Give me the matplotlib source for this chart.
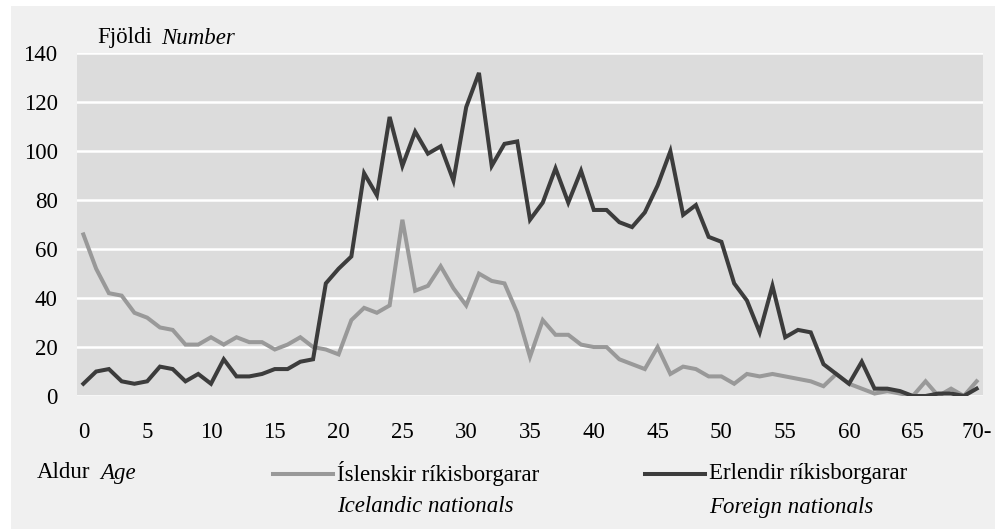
import matplotlib
matplotlib.use("Agg")
import matplotlib.pyplot as plt
from matplotlib.patches import Rectangle
from matplotlib.lines import Line2D

# ---- data ----
ages = list(range(71))
icelandic = [66, 52, 42, 41, 34, 32, 28, 27, 21, 21, 24, 21, 24, 22, 22, 19, 21, 24, 20, 19,
             17, 31, 36, 34, 37, 72, 43, 45, 53, 44, 37, 50, 47, 46, 34, 16, 31, 25, 25, 21,
             20, 20, 15, 13, 11, 20, 9, 12, 11, 8, 8, 5, 9, 8, 9, 8, 7, 6, 4, 9,
             5, 3, 1, 2, 1, 0, 6, 0, 3, 0, 6]
foreign = [5, 10, 11, 6, 5, 6, 12, 11, 6, 9, 5, 15, 8, 8, 9, 11, 11, 14, 15, 46,
           52, 57, 91, 82, 114, 94, 108, 99, 102, 88, 118, 132, 94, 103, 104, 72, 79, 93, 79, 92,
           76, 76, 71, 69, 75, 86, 100, 74, 78, 65, 63, 46, 39, 26, 45, 24, 27, 26, 13, 9,
           5, 14, 3, 3, 2, 0, 0, 1, 1, 0, 3]
xtick_pos = list(range(0, 71, 5))
xtick_labels = ["0", "5", "10", "15", "20", "25", "30", "35", "40", "45", "50", "55", "60", "65", "70-"]
ytick_pos = list(range(0, 141, 20))

FONT = "Liberation Serif"
FS = 16.5
W, H = 1005, 529
LW = 2.9

plt.rcParams["font.family"] = [FONT, "DejaVu Serif"]

fig = plt.figure(figsize=(W / 100, H / 100), dpi=100, facecolor="white")

def fx(px):
    return px / W

def fy(py):
    return 1 - py / H

# panel background
fig.patches.append(Rectangle((fx(11), fy(529)), fx(995) - fx(11), fy(6) - fy(529),
                             transform=fig.transFigure, facecolor="#f0f0f0",
                             edgecolor="none", zorder=-5))

ax = fig.add_axes([fx(77), fy(396), fx(983) - fx(77), fy(53.3) - fy(396)])
ax.set_zorder(2)
ax.set_facecolor("#dcdcdc")
ax.plot(ages, icelandic, color="#999999", lw=LW, solid_joinstyle="miter", zorder=3)
ax.plot(ages, foreign, color="#3c3c3c", lw=LW, solid_joinstyle="miter", zorder=4)

ax.set_xlim(-0.5, 70.5)
ax.set_ylim(0, 140)
ax.set_yticks(ytick_pos)
ax.set_yticklabels([str(v) for v in ytick_pos])
ax.set_xticks(xtick_pos)
ax.set_xticklabels(xtick_labels)
ax.grid(axis="y", color="white", lw=1.8, zorder=1)
ax.set_axisbelow(True)
for s in ax.spines.values():
    s.set_visible(False)
ax.tick_params(axis="both", length=0, labelsize=FS, colors="black")
ax.tick_params(axis="y", pad=14)
ax.tick_params(axis="x", pad=19)

# titles / axis captions
fig.text(fx(97), fy(38), "Fjöldi", fontsize=FS, va="center", ha="left")
fig.text(fx(161), fy(38), "Number", fontsize=FS, va="center", ha="left", style="italic")
fig.text(fx(37), fy(473), "Aldur", fontsize=FS, va="center", ha="left")
fig.text(fx(100), fy(473), "Age", fontsize=FS, va="center", ha="left", style="italic")

# legend
fig.add_artist(Line2D([fx(273), fx(333)], [fy(474), fy(474)], color="#999999", lw=LW,
                      transform=fig.transFigure))
fig.text(fx(337), fy(473), "Íslenskir ríkisborgarar", fontsize=FS, va="center", ha="left")
fig.text(fx(337), fy(507), "Icelandic nationals", fontsize=FS, va="center", ha="left", style="italic")
fig.add_artist(Line2D([fx(645), fx(705)], [fy(474), fy(474)], color="#3c3c3c", lw=LW,
                      transform=fig.transFigure))
fig.text(fx(709), fy(473), "Erlendir ríkisborgarar", fontsize=FS, va="center", ha="left")
fig.text(fx(709), fy(507), "Foreign nationals", fontsize=FS, va="center", ha="left", style="italic")

fig.savefig("out.png", dpi=100, facecolor=fig.get_facecolor())
